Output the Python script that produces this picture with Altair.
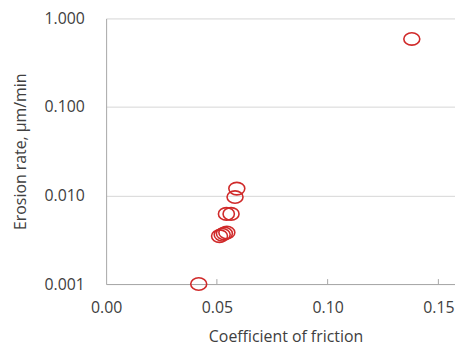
import altair as alt
import pandas as pd

friction = [0.0418, 0.0512, 0.0524, 0.0534, 0.0545, 0.0543, 0.0564, 0.0582, 0.0590, 0.138]
erosion = [0.0010, 0.00348, 0.00360, 0.00372, 0.00382, 0.0062, 0.0062, 0.0096, 0.01197, 0.587]
x_ticks = [0.05, 0.10, 0.15]
y_ticks = [0.001, 0.01, 0.1, 1.0]

df = pd.DataFrame({"friction": friction, "erosion": erosion})
tick_df = pd.DataFrame({"t": x_ticks})

FONT = "Open Sans"
TXT = "#404040"
ELLIPSE = "M-1,0A1,0.78,0,1,1,1,0A1,0.78,0,1,1,-1,0Z"

xscale = alt.Scale(domain=[0, 0.1575], nice=False, zero=True)

points = alt.Chart(df).mark_point(
    shape=ELLIPSE, size=260, filled=False, strokeWidth=1.6, color="#d02a2a", opacity=1
).encode(
    x=alt.X("friction:Q", scale=xscale,
            axis=alt.Axis(title="Coefficient of friction", values=[0, 0.05, 0.10, 0.15],
                          format=".2f", ticks=False, grid=False, labelPadding=16,
                          titlePadding=13, titleX=181, domainColor="#a6a6a6",
                          labelFlush=False)),
    y=alt.Y("erosion:Q", scale=alt.Scale(type="log", domain=[0.001, 1], nice=False),
            axis=alt.Axis(title="Erosion rate, µm/min", values=y_ticks, format=".3f",
                          ticks=False, grid=True, gridColor="#d6d6d6", labelPadding=22,
                          titlePadding=16, domainColor="#a6a6a6")),
)

ticks = alt.Chart(tick_df).mark_rule(color="#a6a6a6", strokeWidth=1).encode(
    x=alt.X("t:Q", scale=xscale),
    y=alt.value(263),
    y2=alt.value(268),
)

chart = alt.layer(points, ticks).properties(
    width=352, height=268,
    autosize=alt.AutoSizeParams(type="none"),
    padding={"left": 99, "top": 9, "right": 0, "bottom": 64},
).configure_view(stroke=None).configure_axis(
    labelFont=FONT, titleFont=FONT, labelFontSize=16, titleFontSize=16,
    labelColor=TXT, titleColor=TXT, titleFontWeight="normal",
)

chart.save("out.html", embed_options={"renderer": "svg", "actions": False})
